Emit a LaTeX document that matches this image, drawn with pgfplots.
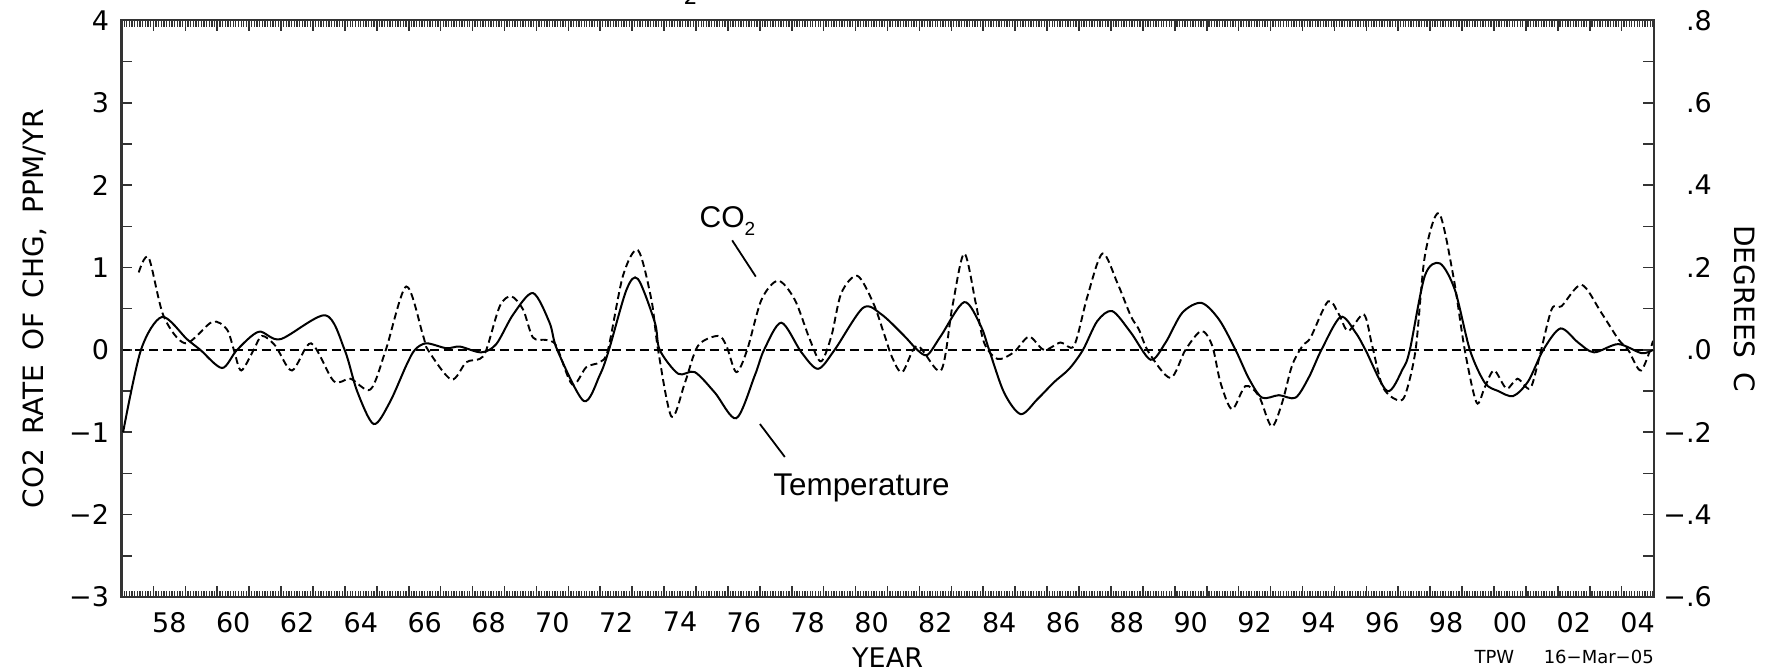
\documentclass[border=0pt]{standalone}
\usepackage{fontspec}
\setmainfont{DejaVu Sans}
\newfontfamily\annfont{Liberation Sans}
\usepackage{pgfplots}
\usepackage{pgfplotstable}
\pgfplotsset{compat=1.18}

% CO2 rate of change, ppm/yr (left axis)
\pgfplotstableread{
year co2
1957.54 0.94
1957.85 1.12
1958.32 0.41
1959.00 0.08
1959.84 0.34
1960.30 0.25
1960.52 0.00
1960.75 -0.25
1961.14 0.00
1961.40 0.17
1961.82 0.05
1962.34 -0.25
1962.94 0.08
1963.65 -0.38
1964.17 -0.35
1964.80 -0.48
1965.28 0.00
1965.92 0.77
1966.45 0.17
1966.60 0.00
1967.33 -0.36
1967.80 -0.15
1968.22 -0.11
1968.43 0.00
1968.85 0.53
1969.21 0.65
1969.58 0.49
1969.89 0.15
1970.31 0.12
1970.62 0.05
1971.12 -0.42
1971.56 -0.21
1971.98 -0.15
1972.24 0.00
1972.71 0.90
1973.18 1.21
1973.60 0.61
1973.81 0.00
1974.23 -0.81
1974.65 -0.40
1975.06 0.05
1975.69 0.17
1975.95 0.05
1976.26 -0.27
1976.60 0.00
1977.05 0.61
1977.57 0.84
1978.09 0.61
1978.56 0.13
1978.91 -0.14
1979.24 0.17
1979.55 0.69
1980.05 0.90
1980.55 0.57
1980.91 0.17
1981.14 -0.09
1981.46 -0.27
1981.93 0.05
1982.67 -0.25
1983.03 0.53
1983.40 1.17
1983.76 0.57
1984.02 0.09
1984.44 -0.11
1984.95 -0.03
1985.43 0.16
1985.90 0.00
1986.42 0.09
1986.84 0.05
1987.26 0.65
1987.73 1.17
1988.20 0.81
1988.62 0.41
1988.87 0.25
1989.18 -0.03
1989.86 -0.34
1990.33 0.00
1990.83 0.23
1991.17 0.05
1991.43 -0.40
1991.79 -0.72
1992.21 -0.44
1992.63 -0.56
1993.03 -0.93
1993.36 -0.64
1993.67 -0.19
1994.00 0.05
1994.25 0.15
1994.80 0.59
1995.14 0.43
1995.43 0.23
1995.92 0.43
1996.18 0.05
1996.50 -0.44
1996.91 -0.60
1997.20 -0.56
1997.54 0.00
1997.83 1.14
1998.27 1.66
1998.72 0.90
1999.08 0.00
1999.45 -0.64
1999.71 -0.45
2000.00 -0.25
2000.39 -0.47
2000.73 -0.35
2001.12 -0.47
2001.38 -0.15
2001.80 0.49
2002.11 0.53
2002.74 0.79
2003.36 0.45
2003.89 0.13
2004.20 0.00
2004.60 -0.25
2004.98 0.11
}\cotable

% Temperature, degrees C (right axis)
\pgfplotstableread{
year temp
1957.05 -0.200
1957.61 0.000
1958.27 0.080
1959.05 0.026
1959.47 0.000
1960.15 -0.044
1960.62 0.000
1961.30 0.044
1961.98 0.026
1963.39 0.084
1963.99 0.000
1964.38 -0.100
1964.90 -0.180
1965.40 -0.128
1965.92 -0.038
1966.19 0.000
1966.55 0.016
1967.18 0.004
1967.60 0.008
1968.27 -0.006
1968.74 0.014
1969.27 0.086
1969.89 0.138
1970.41 0.066
1970.65 0.000
1971.48 -0.124
1971.98 -0.062
1972.27 0.000
1972.82 0.146
1973.18 0.172
1973.71 0.066
1973.86 0.000
1974.44 -0.058
1974.96 -0.054
1975.59 -0.104
1976.26 -0.166
1976.84 -0.062
1977.13 0.000
1977.67 0.066
1978.30 -0.006
1978.82 -0.046
1979.34 0.000
1980.23 0.102
1980.81 0.086
1981.52 0.034
1981.93 0.000
1982.25 -0.012
1982.67 0.034
1983.40 0.116
1983.92 0.058
1984.18 0.000
1984.65 -0.104
1985.17 -0.156
1985.69 -0.120
1986.22 -0.078
1986.69 -0.046
1987.12 0.000
1987.57 0.070
1988.04 0.094
1988.62 0.042
1989.24 -0.024
1989.71 0.018
1990.23 0.090
1990.83 0.114
1991.38 0.074
1991.90 0.000
1992.32 -0.070
1992.73 -0.116
1993.26 -0.110
1993.78 -0.116
1994.20 -0.066
1994.59 0.000
1995.19 0.080
1995.66 0.042
1995.97 0.000
1996.65 -0.100
1997.14 -0.046
1997.36 0.000
1997.83 0.180
1998.30 0.210
1998.77 0.146
1999.24 0.000
1999.71 -0.080
2000.13 -0.100
2000.60 -0.112
2001.07 -0.076
2001.54 0.000
2002.08 0.052
2002.63 0.018
2003.13 -0.006
2003.89 0.014
2004.62 -0.008
2004.98 0.000
}\temptable

\pgfplotsset{
  common/.style={
    at={(0pt,0pt)}, anchor=south west,
    scale only axis, width=766.1pt, height=288.3pt,
    xmin=1957, xmax=2005,
    axis line style={line width=1pt, draw=black!80},
    tick align=inside,
    major tick length=5.5pt, minor tick length=3.1pt,
    major tick style={line width=0.8pt, draw=black!80},
    minor tick style={line width=0.65pt, draw=black!80},
    tick label style={font=\fontsize{13.5}{15}\selectfont},
  }
}

\begin{document}
\begin{tikzpicture}
\begin{axis}[common,
  ymin=-3, ymax=4,
  xtick={1957,...,2005},
  xticklabels={,58,,60,,62,,64,,66,,68,,70,,72,,74,,76,,78,,80,,82,,84,,86,,88,,90,,92,,94,,96,,98,,00,,02,,04,},
  minor xtick={1957,1957.0833333,...,2005},
  xticklabel style={xshift=7.98pt, yshift=-4pt},
  ytick={-3,-2.5,...,4},
  yticklabels={−3,,−2,,−1,,0,,1,,2,,3,,4},
  ytick pos=left,
  yticklabel style={xshift=-2.75pt},
]
\addplot[black, line width=0.9pt, dash pattern=on 4.5pt off 2.5pt] coordinates {(1957,0) (2005,0)};
\addplot[black, line width=0.95pt, smooth, dash pattern=on 3.5pt off 2pt] table[x=year, y=co2] {\cotable};
\node[anchor=base west, font=\annfont\fontsize{15}{16}\selectfont, inner sep=0pt] at (axis cs:1975.10,1.48) {CO\raisebox{-0.45ex}{\fontsize{9.5}{10}\selectfont 2}};
\draw[black, line width=0.9pt] (axis cs:1976.13,1.33) -- (axis cs:1976.87,0.89);
\node[anchor=base west, font=\annfont\fontsize{15.7}{17}\selectfont, inner sep=0pt] at (axis cs:1977.41,-1.77) {Temperature};
\draw[black, line width=0.9pt] (axis cs:1977.0,-0.90) -- (axis cs:1977.78,-1.30);
\end{axis}

\begin{axis}[common,
  ymin=-0.6, ymax=0.8,
  xtick=\empty,
  ytick={-0.6,-0.5,-0.4,-0.3,-0.2,-0.1,0,0.1,0.2,0.3,0.4,0.5,0.6,0.7,0.8},
  yticklabels={−.6,,−.4,,−.2,,.0,,.2,,.4,,.6,,.8},
  ytick pos=right, yticklabel pos=right,
  yticklabel style={anchor=east, xshift=32.6pt},
]
\addplot[black, line width=1pt, smooth] table[x=year, y=temp] {\temptable};
\end{axis}

% axis titles and notes
\node[rotate=90, font=\fontsize{14}{16}\selectfont] at (-43.4pt,144.15pt) {CO2\hspace{0.5em}RATE\hspace{0.5em}OF\hspace{0.5em}CHG,\hspace{0.5em}PPM/YR};
\node[rotate=-90, font=\fontsize{14}{16}\selectfont] at (811.75pt,144.15pt) {DEGREES\hspace{0.5em}C};
\node[anchor=base, font=\fontsize{13.5}{15}\selectfont, inner sep=0pt] at (383.05pt,-35.2pt) {YEAR};
\node[anchor=base west, font=\fontsize{9}{10}\selectfont, inner sep=0pt] at (676.3pt,-33pt) {TPW};
\node[anchor=base east, font=\fontsize{9}{10}\selectfont, inner sep=0pt] at (766.3pt,-33pt) {16−Mar−05};
\node[anchor=base, font=\fontsize{11}{11}\selectfont, inner sep=0pt] at (284.5pt,296pt) {2};

\pgfresetboundingbox
\path (-60.75pt,-35.5pt) rectangle (829.25pt,298.5pt);
\end{tikzpicture}
\end{document}
